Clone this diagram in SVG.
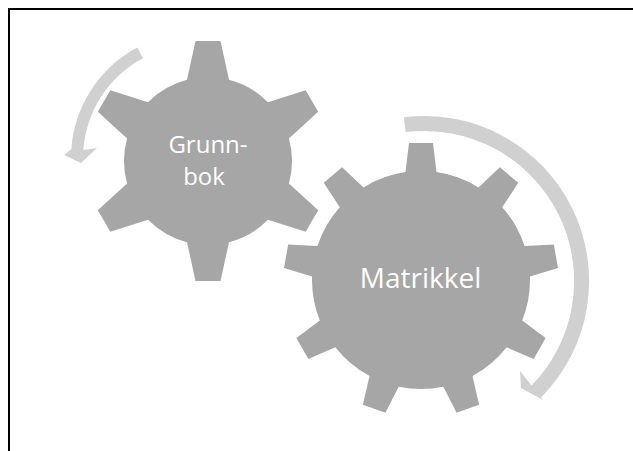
<svg xmlns="http://www.w3.org/2000/svg" width="633" height="451" viewBox="0 0 633 451">
<style>
.gear{fill:#a6a6a6}
.arrow{fill:#d0d0d0}
.lbl{font-family:"Open Sans","Noto Sans","Liberation Sans",sans-serif;fill:#ffffff;text-anchor:middle}
</style>
<rect x="0" y="0" width="633" height="451" fill="#ffffff"/>
<path d="M9,451 V9 H633" fill="none" stroke="#000000" stroke-width="2"/>
<g id="connectors">
<path class="arrow" d="M137.3,47.6 A125 125 0 0 0 71.3,149.3 L64,155 L81,163 L97,148 L83.3,150.1 A113 113 0 0 1 142.9,58.2 Z"/>
<path class="arrow" d="M403.9,117.2 A165 165 0 0 1 541,397.4 L543,400 L521,388 L520,371 L531.6,385.6 A150 150 0 0 0 405.7,132.1 Z"/>
</g>
<g id="grunnbok">
<path class="gear" d="M187,79.67 L195.5,41 L220.5,41 L229,79.67 A84 84 0 0 1 267.93,102.14 L305.67,90.17 L318.17,111.83 L288.93,138.52 A84 84 0 0 1 288.93,183.48 L318.17,210.17 L305.67,231.83 L267.93,219.86 A84 84 0 0 1 229,242.33 L220.5,281 L195.5,281 L187,242.33 A84 84 0 0 1 148.07,219.86 L110.33,231.83 L97.83,210.17 L127.07,183.48 A84 84 0 0 1 127.07,138.52 L97.83,111.83 L110.33,90.17 L148.07,102.14 A84 84 0 0 1 187,79.67 Z"/>
<text class="lbl" x="208" y="153" font-size="24">Grunn-</text>
<text class="lbl" x="204" y="185" font-size="24">bok</text>
</g>
<g id="matrikkel">
<path class="gear" d="M405.5,172.1 L409,143 L433,143 L436.5,172.1 A109 109 0 0 1 478.49,187.39 L499.87,167.35 L518.25,182.77 L502.23,207.31 A109 109 0 0 1 524.57,246.01 L553.84,244.4 L558,268.04 L529.95,276.53 A109 109 0 0 1 522.19,320.53 L545.64,338.11 L533.64,358.89 L506.69,347.37 A109 109 0 0 1 472.47,376.09 L479.13,404.64 L456.57,412.84 L443.33,386.69 A109 109 0 0 1 398.67,386.69 L385.43,412.84 L362.87,404.64 L369.53,376.09 A109 109 0 0 1 335.31,347.37 L308.36,358.89 L296.36,338.11 L319.81,320.53 A109 109 0 0 1 312.05,276.53 L284,268.04 L288.16,244.4 L317.43,246.01 A109 109 0 0 1 339.77,207.31 L323.75,182.77 L342.13,167.35 L363.51,187.39 A109 109 0 0 1 405.5,172.1 Z"/>
<text class="lbl" x="420.5" y="288" font-size="28">Matrikkel</text>
</g>
</svg>
